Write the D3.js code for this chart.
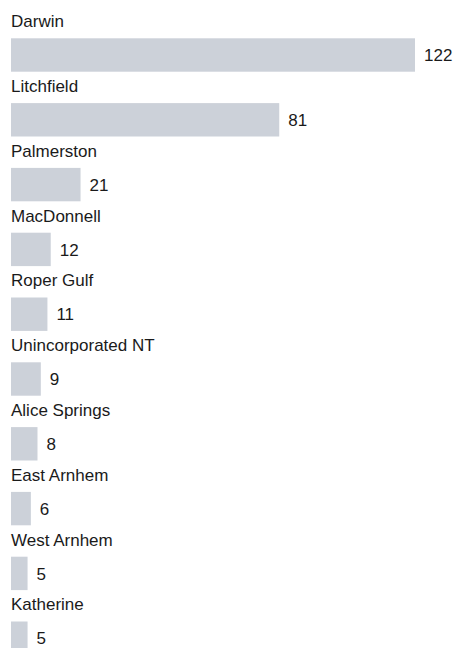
<!DOCTYPE html>
<html>
<head>
<meta charset="utf-8">
<script src="https://cdn.jsdelivr.net/npm/d3@7"></script>
<style>
  html, body { margin: 0; padding: 0; background: #fff; }
  svg { display: block; }
  text { font-family: "Liberation Sans", Arial, Helvetica, sans-serif; fill: #1a1a1a; }
</style>
</head>
<body>
<script>
// Councils and their counts, largest first
const councils = ["Darwin", "Litchfield", "Palmerston", "MacDonnell", "Roper Gulf",
  "Unincorporated NT", "Alice Springs", "East Arnhem", "West Arnhem", "Katherine"];
const counts = [122, 81, 21, 12, 11, 9, 8, 6, 5, 5];

const W = 455, H = 648;
const rows = councils.map((name, i) => ({ name, value: counts[i] }));

const svg = d3.select("body").append("svg")
  .attr("width", W).attr("height", H);

// One row per council: label on top, bar beneath
const y = d3.scaleBand().domain(councils).range([0, H]).padding(0);
const x = d3.scaleLinear().domain([0, d3.max(counts)]).range([11, 415]);

const row = svg.selectAll("g.row").data(rows).join("g")
  .attr("class", "row")
  .attr("transform", d => `translate(0,${y(d.name)})`);

row.append("text")
  .attr("x", 11)
  .attr("y", 27.3)
  .attr("font-size", 17)
  .text(d => d.name);

const barTop = 38.3, barH = 33.4;

row.append("rect")
  .attr("x", x(0))
  .attr("y", barTop)
  .attr("width", d => x(d.value) - x(0))
  .attr("height", barH)
  .attr("fill", "#ccd1d9");

row.append("text")
  .attr("x", d => x(d.value) + 9)
  .attr("y", barTop + barH / 2)
  .attr("dy", "0.36em")
  .attr("font-size", 17)
  .text(d => d.value);
</script>
</body>
</html>
